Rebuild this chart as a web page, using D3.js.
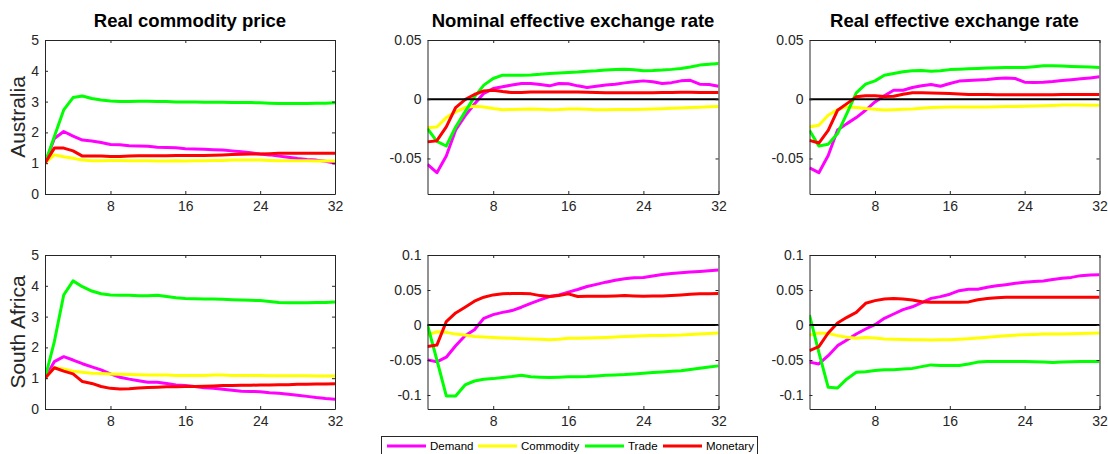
<!DOCTYPE html>
<html>
<head>
<meta charset="utf-8">
<script src="https://cdn.jsdelivr.net/npm/d3@7"></script>
<style>
  html, body { margin: 0; padding: 0; background: #fff; }
  svg { display: block; font-family: "Liberation Sans", Arial, sans-serif; }
</style>
</head>
<body>
<svg id="chart" width="1108" height="454"></svg>
<script>
// Horizon (quarters)
const horizon = d3.range(1, 33);
const xTicks = [8, 16, 24, 32];

const shockNames = ["Demand", "Commodity", "Trade", "Monetary"];
const shockColors = ["#ff00ff", "#ffff00", "#00ff00", "#ff0000"];

const columnTitles = ["Real commodity price", "Nominal effective exchange rate", "Real effective exchange rate"];
const rowLabels = ["Australia", "South Africa"];

const priceTicks = [0, 1, 2, 3, 4, 5];
const ausRateTicks = [-0.05, 0, 0.05];
const zafRateTicks = [-0.1, -0.05, 0, 0.05, 0.1];
const priceTickLabels = ["0", "1", "2", "3", "4", "5"];
const ausRateTickLabels = ["-0.05", "0", "0.05"];
const zafRateTickLabels = ["-0.1", "-0.05", "0", "0.05", "0.1"];

// Australia — real commodity price
const ausPriceDemand = [1.0, 1.8, 2.03, 1.88, 1.75, 1.72, 1.67, 1.61, 1.60, 1.57, 1.56, 1.55, 1.52, 1.51, 1.50, 1.47, 1.46, 1.45, 1.44, 1.43, 1.40, 1.37, 1.34, 1.30, 1.27, 1.23, 1.19, 1.15, 1.12, 1.10, 1.06, 1.0];
const ausPriceCommodity = [1.0, 1.27, 1.21, 1.16, 1.10, 1.08, 1.08, 1.09, 1.09, 1.08, 1.08, 1.08, 1.07, 1.07, 1.08, 1.07, 1.08, 1.08, 1.09, 1.09, 1.10, 1.10, 1.10, 1.10, 1.09, 1.08, 1.08, 1.08, 1.08, 1.07, 1.07, 1.07];
const ausPriceTrade = [1.0, 1.87, 2.73, 3.13, 3.18, 3.10, 3.05, 3.02, 3.00, 3.00, 3.01, 3.01, 3.00, 3.00, 2.99, 2.99, 2.99, 2.98, 2.98, 2.98, 2.97, 2.97, 2.97, 2.96, 2.95, 2.94, 2.94, 2.94, 2.94, 2.95, 2.95, 2.96];
const ausPriceMonetary = [1.0, 1.49, 1.49, 1.40, 1.23, 1.23, 1.23, 1.22, 1.22, 1.23, 1.24, 1.24, 1.24, 1.24, 1.25, 1.25, 1.25, 1.25, 1.26, 1.27, 1.28, 1.29, 1.30, 1.30, 1.31, 1.32, 1.32, 1.32, 1.32, 1.32, 1.32, 1.32];

// Australia — nominal effective exchange rate
const ausNeerDemand = [-0.055, -0.062, -0.048, -0.026, -0.014, -0.004, 0.005, 0.009, 0.0105, 0.012, 0.0133, 0.0133, 0.0124, 0.0113, 0.0133, 0.013, 0.0113, 0.0099, 0.011, 0.012, 0.0127, 0.0138, 0.0147, 0.0155, 0.0147, 0.0133, 0.014, 0.0155, 0.016, 0.0127, 0.0124, 0.011];
const ausNeerCommodity = [-0.024, -0.0234, -0.0155, -0.0107, -0.007, -0.006, -0.0065, -0.0079, -0.0088, -0.0086, -0.0085, -0.0083, -0.0085, -0.0088, -0.0087, -0.0083, -0.0082, -0.0085, -0.0088, -0.0088, -0.0087, -0.0086, -0.0086, -0.0085, -0.0083, -0.0080, -0.0077, -0.0073, -0.0070, -0.0067, -0.0064, -0.0062];
const ausNeerTrade = [-0.0249, -0.0356, -0.0395, -0.0234, -0.0107, 0.002, 0.0119, 0.0175, 0.0203, 0.0203, 0.0203, 0.0205, 0.021, 0.0217, 0.0221, 0.0226, 0.023, 0.0237, 0.024, 0.0246, 0.025, 0.0254, 0.0248, 0.024, 0.0242, 0.0246, 0.0252, 0.026, 0.0272, 0.0288, 0.0295, 0.0302];
const ausNeerMonetary = [-0.036, -0.035, -0.0234, -0.007, -0.0003, 0.004, 0.007, 0.0076, 0.0065, 0.0056, 0.0057, 0.006, 0.006, 0.0061, 0.0062, 0.0062, 0.006, 0.0058, 0.0056, 0.0055, 0.0055, 0.0054, 0.0054, 0.0054, 0.0055, 0.0056, 0.0057, 0.0058, 0.0058, 0.0057, 0.0056, 0.0056];

// Australia — real effective exchange rate
const ausReerDemand = [-0.058, -0.062, -0.0475, -0.026, -0.0206, -0.0155, -0.0093, -0.0023, 0.003, 0.0076, 0.0076, 0.0099, 0.0113, 0.0124, 0.011, 0.0133, 0.0153, 0.0158, 0.0162, 0.0167, 0.0174, 0.018, 0.0175, 0.0144, 0.0141, 0.0144, 0.015, 0.0158, 0.0165, 0.0172, 0.018, 0.0189];
const ausReerCommodity = [-0.0234, -0.022, -0.0136, -0.0088, -0.0065, -0.007, -0.0079, -0.0085, -0.009, -0.0088, -0.0085, -0.0082, -0.0076, -0.007, -0.0068, -0.0065, -0.0065, -0.0065, -0.0065, -0.0065, -0.0063, -0.0062, -0.0061, -0.006, -0.0058, -0.0055, -0.0052, -0.0048, -0.0048, -0.0049, -0.005, -0.005];
const ausReerTrade = [-0.0263, -0.0395, -0.038, -0.029, -0.012, 0.0054, 0.0127, 0.0155, 0.0203, 0.0217, 0.0232, 0.024, 0.0242, 0.0237, 0.024, 0.025, 0.0253, 0.0257, 0.026, 0.0263, 0.0265, 0.0268, 0.0268, 0.0268, 0.0275, 0.0282, 0.0283, 0.028, 0.0277, 0.0275, 0.0272, 0.0268];
const ausReerMonetary = [-0.0347, -0.037, -0.0263, -0.0093, -0.0037, 0.002, 0.003, 0.003, 0.0023, 0.0025, 0.0042, 0.0054, 0.0054, 0.0052, 0.005, 0.0048, 0.0044, 0.004, 0.004, 0.0039, 0.0038, 0.0037, 0.0037, 0.0037, 0.0037, 0.0038, 0.0038, 0.0039, 0.004, 0.004, 0.004, 0.004];

// South Africa — real commodity price
const zafPriceDemand = [1.0, 1.54, 1.70, 1.59, 1.47, 1.37, 1.27, 1.14, 1.03, 0.97, 0.92, 0.87, 0.87, 0.83, 0.78, 0.76, 0.73, 0.69, 0.67, 0.64, 0.61, 0.58, 0.57, 0.56, 0.53, 0.51, 0.48, 0.45, 0.41, 0.37, 0.34, 0.32];
const zafPriceCommodity = [1.0, 1.34, 1.30, 1.23, 1.19, 1.16, 1.15, 1.14, 1.13, 1.12, 1.11, 1.10, 1.10, 1.10, 1.09, 1.09, 1.09, 1.09, 1.10, 1.10, 1.09, 1.09, 1.09, 1.09, 1.08, 1.08, 1.08, 1.08, 1.08, 1.07, 1.07, 1.07];
const zafPriceTrade = [1.0, 2.19, 3.70, 4.16, 3.97, 3.83, 3.74, 3.70, 3.69, 3.69, 3.68, 3.68, 3.69, 3.65, 3.61, 3.59, 3.58, 3.57, 3.57, 3.56, 3.55, 3.54, 3.53, 3.52, 3.49, 3.46, 3.45, 3.45, 3.45, 3.46, 3.46, 3.47];
const zafPriceMonetary = [1.0, 1.34, 1.23, 1.14, 0.89, 0.83, 0.73, 0.67, 0.65, 0.66, 0.68, 0.70, 0.71, 0.72, 0.72, 0.73, 0.73, 0.74, 0.75, 0.76, 0.76, 0.77, 0.77, 0.78, 0.78, 0.79, 0.79, 0.80, 0.80, 0.81, 0.81, 0.82];

// South Africa — nominal effective exchange rate
const zafNeerDemand = [-0.0498, -0.0526, -0.046, -0.0297, -0.0153, -0.0067, 0.0096, 0.0148, 0.018, 0.0206, 0.0254, 0.031, 0.036, 0.0407, 0.043, 0.047, 0.0507, 0.055, 0.058, 0.0612, 0.064, 0.066, 0.0675, 0.068, 0.070, 0.0722, 0.0737, 0.0746, 0.0756, 0.0766, 0.0775, 0.0785];
const zafNeerCommodity = [-0.0144, -0.0096, -0.0105, -0.013, -0.0144, -0.0163, -0.017, -0.0177, -0.0184, -0.019, -0.0195, -0.02, -0.0205, -0.021, -0.0205, -0.019, -0.0188, -0.0185, -0.0181, -0.0177, -0.0171, -0.0165, -0.0159, -0.0153, -0.0151, -0.0149, -0.0146, -0.0144, -0.0136, -0.0128, -0.0121, -0.0115];
const zafNeerTrade = [0, -0.05, -0.1014, -0.1014, -0.0857, -0.08, -0.0775, -0.0766, -0.075, -0.0737, -0.0718, -0.074, -0.0745, -0.075, -0.0745, -0.074, -0.0738, -0.0737, -0.0728, -0.0718, -0.0713, -0.0708, -0.0699, -0.069, -0.068, -0.067, -0.0662, -0.0655, -0.0636, -0.0617, -0.06, -0.0584];
const zafNeerMonetary = [-0.0306, -0.0287, 0.0048, 0.0172, 0.0254, 0.034, 0.0397, 0.043, 0.0445, 0.045, 0.045, 0.0445, 0.042, 0.0407, 0.042, 0.0445, 0.0407, 0.041, 0.041, 0.0412, 0.0416, 0.042, 0.0416, 0.0412, 0.0414, 0.0416, 0.0423, 0.043, 0.0438, 0.0445, 0.0448, 0.045];

// South Africa — real effective exchange rate
const zafReerDemand = [-0.053, -0.0557, -0.0438, -0.0295, -0.0214, -0.0129, -0.0057, 0.0005, 0.0095, 0.0157, 0.022, 0.026, 0.032, 0.038, 0.0405, 0.044, 0.049, 0.051, 0.051, 0.0538, 0.056, 0.0576, 0.0595, 0.061, 0.062, 0.063, 0.065, 0.0667, 0.068, 0.0705, 0.0714, 0.0719];
const zafReerCommodity = [-0.0143, -0.0114, -0.012, -0.0152, -0.0176, -0.019, -0.018, -0.0185, -0.02, -0.0203, -0.0206, -0.021, -0.0212, -0.0214, -0.0212, -0.021, -0.0203, -0.0195, -0.0186, -0.0176, -0.0164, -0.0152, -0.0145, -0.0138, -0.0134, -0.0129, -0.0129, -0.0129, -0.0125, -0.012, -0.0117, -0.0114];
const zafReerTrade = [0.0143, -0.039, -0.089, -0.09, -0.077, -0.0676, -0.0667, -0.065, -0.064, -0.064, -0.063, -0.062, -0.0595, -0.057, -0.058, -0.058, -0.058, -0.0557, -0.053, -0.052, -0.052, -0.052, -0.052, -0.052, -0.0525, -0.053, -0.0535, -0.053, -0.0525, -0.052, -0.052, -0.052];
const zafReerMonetary = [-0.0367, -0.031, -0.0114, 0.0029, 0.011, 0.018, 0.031, 0.0348, 0.037, 0.038, 0.037, 0.0357, 0.0333, 0.0324, 0.0324, 0.0324, 0.0324, 0.033, 0.036, 0.038, 0.039, 0.0395, 0.0395, 0.0395, 0.0395, 0.0395, 0.0395, 0.0395, 0.0395, 0.0395, 0.0395, 0.0395];

// Panel grid built from the arrays above
const columnsX = [[45, 335], [427.5, 718.5], [809.5, 1099.5]];
const rowsY = [[40, 194], [255, 409]];

const panels = [
  { row: 0, col: 0, domain: [0, 5], ticks: priceTicks, labels: priceTickLabels, zero: false,
    series: [ausPriceDemand, ausPriceCommodity, ausPriceTrade, ausPriceMonetary] },
  { row: 0, col: 1, domain: [-0.08, 0.05], ticks: ausRateTicks, labels: ausRateTickLabels, zero: true,
    series: [ausNeerDemand, ausNeerCommodity, ausNeerTrade, ausNeerMonetary] },
  { row: 0, col: 2, domain: [-0.08, 0.05], ticks: ausRateTicks, labels: ausRateTickLabels, zero: true,
    series: [ausReerDemand, ausReerCommodity, ausReerTrade, ausReerMonetary] },
  { row: 1, col: 0, domain: [0, 5], ticks: priceTicks, labels: priceTickLabels, zero: false,
    series: [zafPriceDemand, zafPriceCommodity, zafPriceTrade, zafPriceMonetary] },
  { row: 1, col: 1, domain: [-0.12, 0.1], ticks: zafRateTicks, labels: zafRateTickLabels, zero: true,
    series: [zafNeerDemand, zafNeerCommodity, zafNeerTrade, zafNeerMonetary] },
  { row: 1, col: 2, domain: [-0.12, 0.1], ticks: zafRateTicks, labels: zafRateTickLabels, zero: true,
    series: [zafReerDemand, zafReerCommodity, zafReerTrade, zafReerMonetary] }
];

const svg = d3.select("#chart");
const axisColor = "#262626";
const tickLen = 3;

panels.forEach(p => {
  const [x0, x1] = columnsX[p.col];
  const [yTop, yBot] = rowsY[p.row];
  const x = d3.scaleLinear().domain([1, 32]).range([x0, x1]);
  const y = d3.scaleLinear().domain(p.domain).range([yBot, yTop]);
  const g = svg.append("g");

  const clipId = `clip-${p.row}-${p.col}`;
  g.append("clipPath").attr("id", clipId)
    .append("rect").attr("x", x0).attr("y", yTop).attr("width", x1 - x0).attr("height", yBot - yTop);

  // Response lines
  const line = d3.line().x((d, i) => x(horizon[i])).y(d => y(d));
  const lines = g.append("g").attr("clip-path", `url(#${clipId})`);
  p.series.forEach((s, k) => {
    lines.append("path")
      .attr("d", line(s))
      .attr("fill", "none")
      .attr("stroke", shockColors[k])
      .attr("stroke-width", 3)
      .attr("stroke-linejoin", "round");
  });

  if (p.zero) {
    g.append("line")
      .attr("x1", x0).attr("x2", x1)
      .attr("y1", y(0)).attr("y2", y(0))
      .attr("stroke", "#000").attr("stroke-width", 2);
  }

  // Left axis with inward ticks
  const yAxis = d3.axisLeft(y).tickValues(p.ticks)
    .tickFormat((d, i) => p.labels[i]).tickSizeInner(-tickLen).tickSizeOuter(0).tickPadding(6);
  const ya = g.append("g").attr("transform", `translate(${x0},0)`).call(yAxis);
  // Right axis ticks (no labels)
  const yAxisR = d3.axisRight(y).tickValues(p.ticks).tickFormat("").tickSizeInner(-tickLen).tickSizeOuter(0);
  const yr = g.append("g").attr("transform", `translate(${x1},0)`).call(yAxisR);
  // Bottom axis
  const xAxis = d3.axisBottom(x).tickValues(xTicks).tickSizeInner(-tickLen).tickSizeOuter(0).tickPadding(7);
  const xa = g.append("g").attr("transform", `translate(0,${yBot})`).call(xAxis);
  // Top axis ticks
  const xAxisT = d3.axisTop(x).tickValues(xTicks).tickFormat("").tickSizeInner(-tickLen).tickSizeOuter(0);
  const xt = g.append("g").attr("transform", `translate(0,${yTop})`).call(xAxisT);

  [ya, yr, xa, xt].forEach(a => {
    a.selectAll(".domain").attr("stroke", axisColor).attr("stroke-width", 1);
    a.selectAll(".tick line").attr("stroke", axisColor).attr("stroke-width", 1);
    a.selectAll("text").attr("fill", axisColor)
      .style("font-family", '"Liberation Sans", Arial, sans-serif').style("font-size", "14px");
  });
});

// Column titles
columnTitles.forEach((t, i) => {
  const [x0, x1] = columnsX[i];
  svg.append("text")
    .attr("x", (x0 + x1) / 2).attr("y", 27)
    .attr("text-anchor", "middle")
    .attr("font-size", 18.5).attr("font-weight", "bold").attr("fill", "#000")
    .text(t);
});

// Row labels
rowLabels.forEach((t, i) => {
  const [yTop, yBot] = rowsY[i];
  const cy = (yTop + yBot) / 2;
  svg.append("text")
    .attr("transform", `translate(25,${cy}) rotate(-90)`)
    .attr("text-anchor", "middle")
    .attr("font-size", 21).attr("fill", axisColor)
    .text(t);
});

// Legend
const legend = svg.append("g");
legend.append("rect")
  .attr("x", 381.5).attr("y", 436.5).attr("width", 376).attr("height", 22)
  .attr("fill", "#fff").attr("stroke", axisColor).attr("stroke-width", 1);
const legendX = [387, 478, 585, 663];
shockNames.forEach((name, k) => {
  legend.append("line")
    .attr("x1", legendX[k]).attr("x2", legendX[k] + 39)
    .attr("y1", 446).attr("y2", 446)
    .attr("stroke", shockColors[k]).attr("stroke-width", 3);
  legend.append("text")
    .attr("x", legendX[k] + 43).attr("y", 450)
    .attr("font-size", 11.5).attr("fill", "#000")
    .text(name);
});
</script>
</body>
</html>
